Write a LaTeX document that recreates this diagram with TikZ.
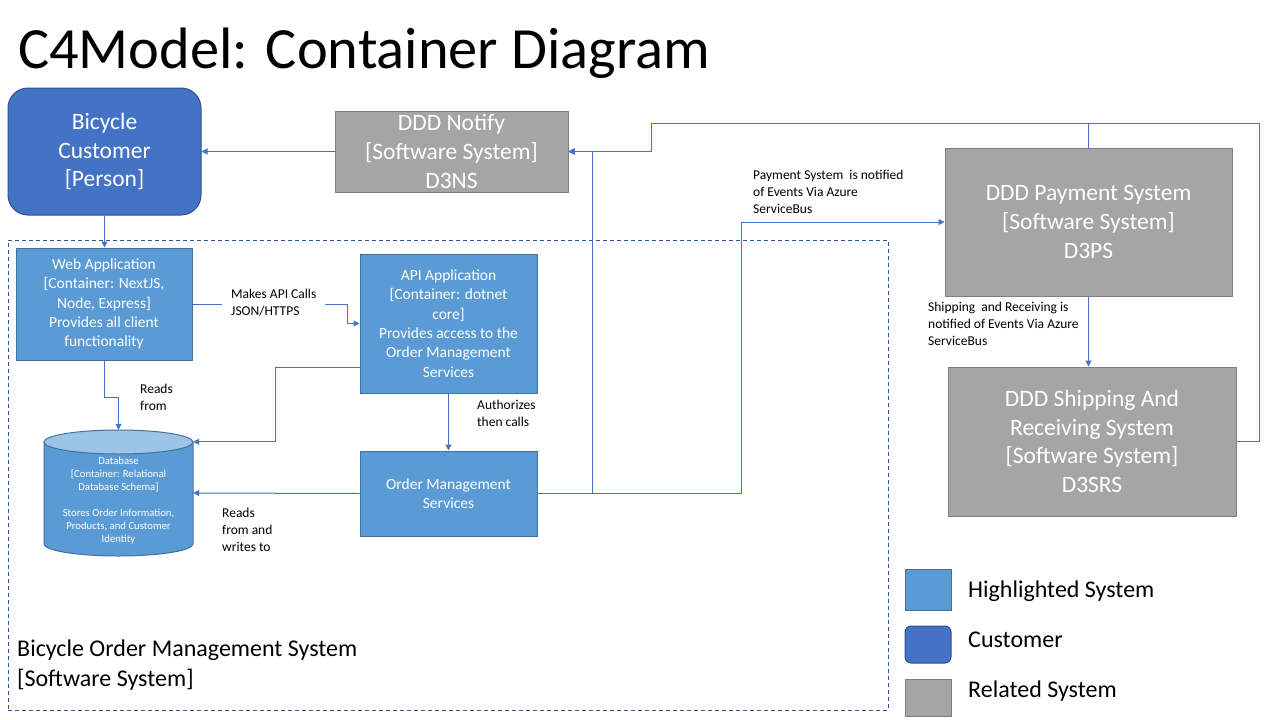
\documentclass[tikz,border=0pt]{standalone}
\usepackage{fontspec}
\setmainfont{Carlito}
\usepackage{tikz}
\usetikzlibrary{positioning}
\usetikzlibrary{arrows.meta}
\usepackage{xcolor}
\definecolor{custblue}{HTML}{4472C4}
\definecolor{custedge}{HTML}{2F528F}
\definecolor{hlblue}{HTML}{5B9BD5}
\definecolor{hledge}{HTML}{41719C}
\definecolor{dbtop}{HTML}{9DC3E6}
\definecolor{relgray}{HTML}{A5A5A5}
\definecolor{reledge}{HTML}{7F7F7F}
\definecolor{bound}{HTML}{2F5597}
\newcommand\fsz[2]{\fontsize{#1}{#2}\selectfont}

\begin{document}
\begin{tikzpicture}[x=1pt, y=-1pt,
    person/.style={draw=custedge, fill=custblue, line width=1pt, rounded corners=20pt, text=white, align=center, font=\fsz{23.5}{28.5}},
    related/.style={draw=reledge, fill=relgray, line width=1pt, text=white, align=center, font=\fsz{23.5}{28.8}},
    container/.style={draw=hledge, fill=hlblue, line width=1pt, text=white, align=center, font=\fsz{15.5}{19.3}, minimum width=177pt},
    conn/.style={custblue, line width=1pt, -{Triangle[length=6pt,width=6pt]}},
    lbl/.style={align=left, anchor=west, inner sep=0pt, font=\fsz{13.5}{17}},
    legend/.style={anchor=west, inner sep=0pt, font=\fsz{24}{29}}]
    \path[use as bounding box, fill=white] (0,0) rectangle (1280,720);

    \node[anchor=base west, inner sep=0pt, font=\fsz{58.4}{60}] (title) at (18,68) {C4Model: Container Diagram};

    \node[draw=bound, dashed, line width=0.8pt, dash pattern=on 4pt off 3pt, minimum width=880pt, minimum height=470pt] (boundary) at (448,475) {};
    \node[align=left, anchor=west, inner sep=0pt, font=\fsz{24}{30}] (boundlbl) at (17,665) {Bicycle Order Management System\\{}[Software System]};

    \node[person, minimum width=193pt, minimum height=127pt] (cust) at (104.5,151.5) {Bicycle\\Customer\\{}[Person]};
    \node[related, minimum width=233pt, minimum height=81pt] (notify) at (451.5,151.5) {DDD Notify\\{}[Software System]\\D3NS};
    \node[related, minimum width=287pt, minimum height=148pt] (pay) at (1088.5,222) {DDD Payment System\\{}[Software System]\\D3PS};
    \node[related, minimum width=288pt, minimum height=149pt] (ship) at (1092,441.5) {DDD Shipping And\\Receiving System\\{}[Software System]\\D3SRS};

    \node[container, minimum width=176pt, minimum height=112pt] (web) at (104,304) {Web Application\\{}[Container: NextJS,\\Node, Express]\\Provides all client\\functionality};
    \node[container, minimum height=139pt] (api) at (448.5,323.5) {API Application\\{}[Container: dotnet\\core]\\Provides access to the\\Order Management\\Services};
    \node[container, minimum height=85pt] (oms) at (448.5,493.5) {Order Management\\Services};

    \fill[hlblue] (44,442) rectangle (193,544);
    \fill[hlblue] (118.5,544) ellipse (74.5pt and 12pt);
    \draw[hledge, line width=1pt] (44,442) -- (44,544) .. controls (44,550.6) and (77.35,556) .. (118.5,556) .. controls (159.65,556) and (193,550.6) .. (193,544) -- (193,442);
    \filldraw[fill=dbtop, draw=hledge, line width=1pt] (118.5,442) ellipse (74.5pt and 12pt);
    \node[minimum width=149pt, minimum height=126pt, inner sep=0pt] (db) at (118.5,493) {};
    \node[align=center, text=white, inner sep=0pt, font=\fsz{10.7}{13}] (dblabel) at (118.5,501) {Database\\{}[Container: Relational\\Database Schema]\\[13pt]Stores Order Information,\\Products, and Customer\\Identity};
    \coordinate (dbin) at ([yshift=-12pt]db.north east);

    \draw[conn] (notify.west) -- (cust.east);
    \draw[conn] (cust.south) -- (cust.south |- web.north);
    \draw[conn] (web.east) -- ++(155,0) |- (api.west);
    \node[lbl, fill=white, inner xsep=9pt, inner ysep=2pt] (lblapi) at (222,302.5) {Makes API Calls\\JSON/HTTPS};
    \draw[conn] (web.south) -- ++(0,37) -| (db.north);
    \node[lbl] (lblread) at (140,397) {Reads\\from};
    \draw[conn] ([yshift=-43.5pt]api.west) -- ++(-84,0) |- (dbin);
    \draw[conn] (api.south) -- (oms.north);
    \node[lbl] (lblauth) at (477,413.5) {Authorizes\\then calls};
    \draw[conn] (oms.west) -- (db.east);
    \node[lbl] (lblrw) at (222,530) {Reads\\from and\\writes to};

    \coordinate (split) at (592,493.5);
    \coordinate (bend) at (651,123);
    \draw[conn] (oms.east) -- (split) |- (notify.east);
    \draw[conn] (split) -- ++(149,0) |- (pay.west);
    \node[lbl] (lblpay) at (753,192) {Payment System~ is notified\\of Events Via Azure\\ServiceBus};
    \draw[conn] (pay.north) |- (bend) |- (notify.east);
    \draw[conn] (ship.east) -- ++(23,0) |- (bend) |- (notify.east);
    \draw[conn] (pay.south) -- (pay.south |- ship.north);
    \node[lbl] (lblship) at (928,324) {Shipping~ and Receiving is\\notified of Events Via Azure\\ServiceBus};

    \node[draw=hledge, fill=hlblue, line width=1pt, minimum width=46pt, minimum height=41pt] (leghl) at (928,589.5) {};
    \node[draw=custedge, fill=custblue, line width=1pt, rounded corners=6pt, minimum width=46pt, minimum height=37pt] (legcust) at (928,644.5) {};
    \node[draw=reledge, fill=relgray, line width=1pt, minimum width=46pt, minimum height=37pt] (legrel) at (928,697.5) {};
    \node[legend] (leghltxt) at (968,591) {Highlighted System};
    \node[legend] (legcusttxt) at (968,640) {Customer};
    \node[legend] (legreltxt) at (968,691) {Related System};
\end{tikzpicture}
\end{document}
